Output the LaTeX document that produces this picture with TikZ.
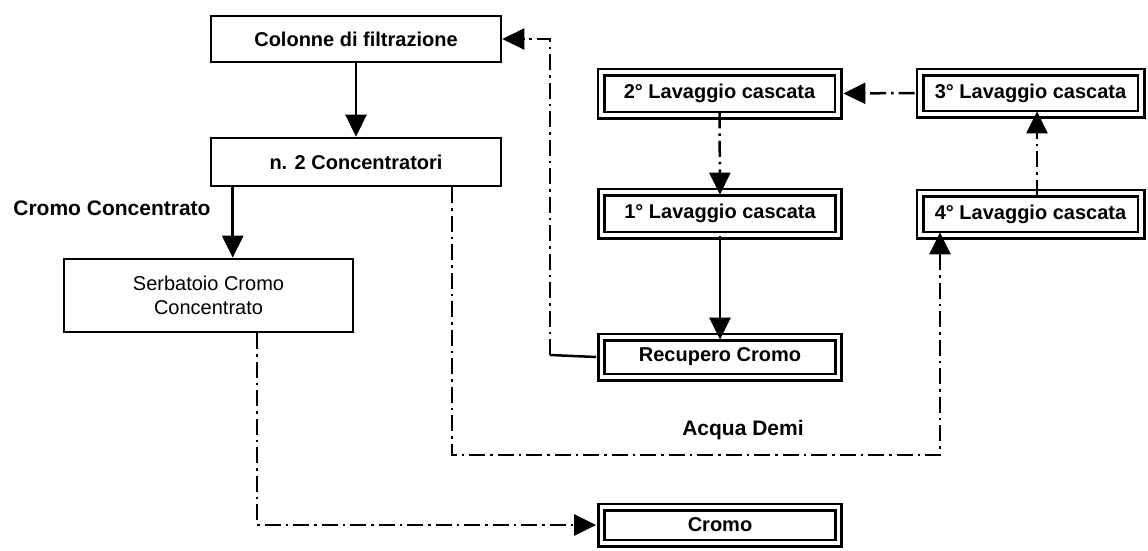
\documentclass[tikz,border=0pt]{standalone}
\usepackage{fontspec}
\setmainfont{Liberation Sans}
\usetikzlibrary{arrows.meta,positioning}

\tikzset{
  txt/.style={font=\fontsize{20}{24}\selectfont\bfseries, align=center},
  sbox/.style={draw, line width=2.6pt, txt, inner sep=0pt},
  dbox/.style={draw, line width=2.8pt, double, double distance=3.4pt, txt, inner sep=0pt},
  flow/.style={line width=2.5pt, -{Triangle[length=22pt,width=21pt]}},
  dd/.style={line width=2.5pt, dash pattern=on 16pt off 5pt on 2.5pt off 5pt},
  lbl/.style={font=\fontsize{21}{25}\selectfont\bfseries}
}

\begin{document}
\begin{tikzpicture}[x=1pt,y=-1pt]
  \useasboundingbox (0,0) rectangle (1148,550);

  % left column: filtration and concentration
  \node[sbox, minimum width=290pt, minimum height=46pt] (col) at (356,39) {Colonne di filtrazione};
  \node[sbox, minimum width=290pt, minimum height=48pt] (conc) at (356,162) {n. 2 Concentratori};
  \node[sbox, minimum width=289pt, minimum height=73pt, font=\fontsize{20}{24}\selectfont] (serb) at (208.5,295.5) {Serbatoio Cromo\\Concentrato};
  \node[lbl] (lcc) at (112,208) {Cromo Concentrato};

  % cascade rinse tanks
  \node[dbox, minimum width=237pt, minimum height=43pt] (l2) at (719.5,93.5) {2° Lavaggio cascata};
  \node[dbox, minimum width=237pt, minimum height=43pt] (l1) at (720,213.5) {1° Lavaggio cascata};
  \node[dbox, minimum width=237pt, minimum height=40pt] (rec) at (720,357) {Recupero Cromo};
  \node[dbox, minimum width=237pt, minimum height=36pt] (cromo) at (720,525) {Cromo};
  \node[dbox, minimum width=221pt, minimum height=42pt] (l3) at (1030.5,93) {3° Lavaggio cascata};
  \node[dbox, minimum width=221pt, minimum height=42pt] (l4) at (1030.5,214) {4° Lavaggio cascata};
  \node[lbl] (lad) at (743,430) {Acqua Demi};

  % routing points
  \coordinate (rc) at (550,355);
  \coordinate (dA) at (452,455);
  \coordinate (dB) at (940,455);
  \coordinate (sA) at (257,525);

  % solid flows
  \draw[flow] (col.south) -- (conc.south |- conc.north);
  \draw[flow] ([xshift=23pt]conc.south west) -- ([xshift=23pt]conc.south west |- serb.north);
  \draw[flow] (l1.south) -- ([yshift=-4pt]rec.north);
  \draw[line width=2.5pt] ([xshift=-4pt]rec.west) -- (rc);

  % dash-dot flows
  \draw[dd, flow] (rc) |- (col.east);
  \draw[dd, flow] ([yshift=4pt]l2.south) -- ([yshift=-4pt]l1.north);
  \draw[dd, flow] ([xshift=-4pt]l3.west) -- ([xshift=4pt]l2.east);
  \draw[dd, flow] ([xshift=6.5pt,yshift=-4pt]l4.north) -- ([xshift=6.5pt,yshift=4pt]l3.south);
  \draw[dd, flow] (conc.south -| dA) -- (dA) -- (dB) -- ([yshift=4pt]dB |- l4.south);
  \draw[dd, flow] (serb.south -| sA) -- (sA) -- ([xshift=-4pt]cromo.west);
\end{tikzpicture}
\end{document}
